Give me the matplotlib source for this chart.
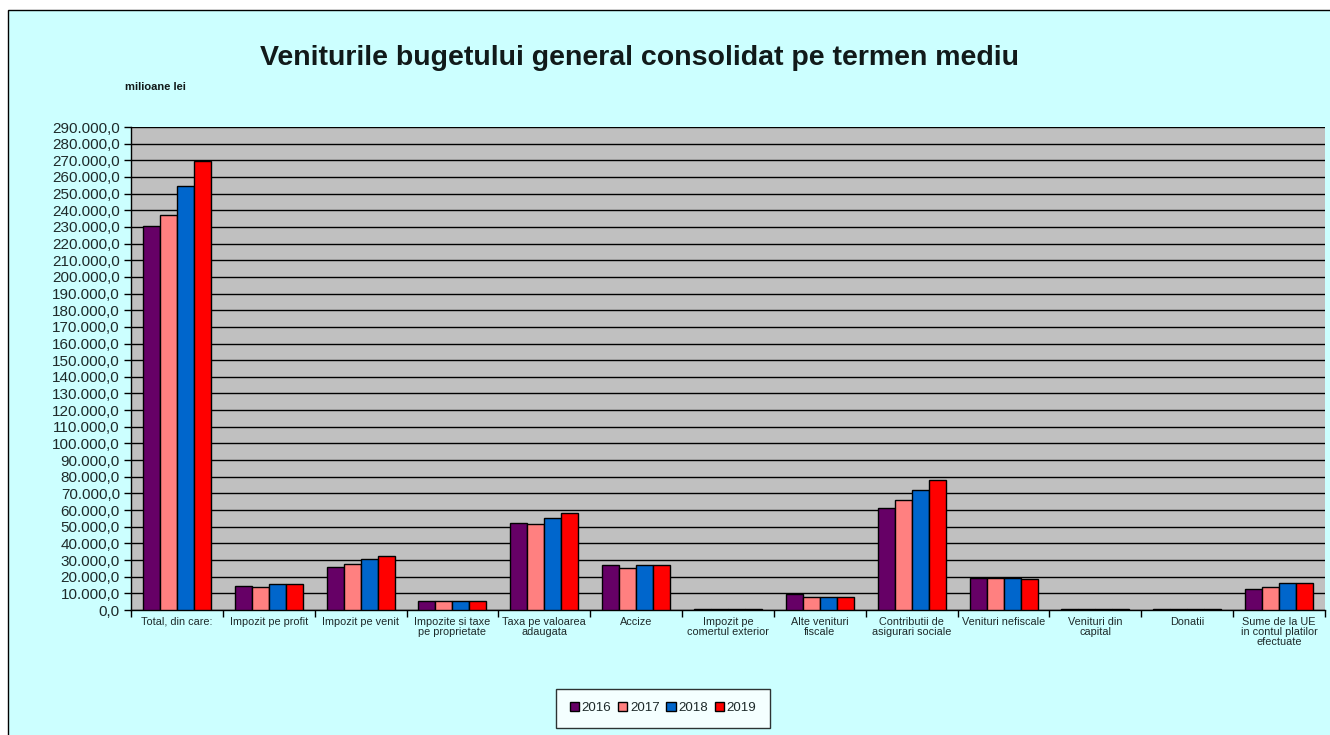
import matplotlib

matplotlib.use("Agg")
import matplotlib.pyplot as plt
import numpy as np
from matplotlib.patches import Rectangle
from matplotlib.ticker import FuncFormatter, MultipleLocator

plt.rcParams["font.family"] = ["Liberation Sans", "DejaVu Sans"]

categories = [
    "Total, din care:",
    "Impozit pe profit",
    "Impozit pe venit",
    "Impozite si taxe\npe proprietate",
    "Taxa pe valoarea\nadaugata",
    "Accize",
    "Impozit pe\ncomertul exterior",
    "Alte venituri\nfiscale",
    "Contributii de\nasigurari sociale",
    "Venituri nefiscale",
    "Venituri din\ncapital",
    "Donatii",
    "Sume de la UE\nin contul platilor\nefectuate",
]
years = ["2016", "2017", "2018", "2019"]

# milioane lei
v2016 = [230800, 14400, 26000, 5400, 52400, 27000, 800, 9600, 61400, 19400, 600, 500, 12800]
v2017 = [237200, 14100, 27800, 5400, 51400, 25100, 800, 8100, 65800, 19400, 600, 500, 13700]
v2018 = [254500, 15400, 30600, 5500, 55100, 27000, 800, 8000, 72000, 19400, 600, 500, 16200]
v2019 = [269400, 15500, 32600, 5500, 58200, 27000, 800, 8000, 78200, 18400, 600, 500, 16200]
series = [v2016, v2017, v2018, v2019]
colors = ["#660066", "#FF8080", "#0066CC", "#FF0000"]
text_color = "#1E2A2A"

fig = plt.figure(figsize=(13.3, 7.35), dpi=100)
fig.patch.set_facecolor("white")
fig.patches.append(Rectangle((8 / 1330, -0.01), 1.02, 1 - 10 / 735 + 0.01,
                             transform=fig.transFigure, facecolor="#CCFFFF",
                             edgecolor="black", linewidth=1.0, zorder=-10))

ax = fig.add_axes([131 / 1330, 1 - 610 / 735, (1325 - 131) / 1330, (610 - 127) / 735])
ax.set_facecolor("#C0C0C0")

x = np.arange(len(categories))
width = 0.185
for i, (vals, col, yr) in enumerate(zip(series, colors, years)):
    ax.bar(x + (i - 1.5) * width, vals, width, color=col, edgecolor="black",
           linewidth=1.0, label=yr, zorder=3)

ax.set_xlim(-0.5, len(categories) - 0.5)
ax.set_ylim(0, 290000)
ax.yaxis.set_major_locator(MultipleLocator(10000))
ax.yaxis.set_major_formatter(FuncFormatter(
    lambda v, _: f"{v:,.1f}".replace(",", " ").replace(".", ",").replace(" ", ".")))
ax.grid(axis="y", color="black", linewidth=1.0, zorder=1)
ax.tick_params(axis="y", labelsize=11, labelcolor=text_color, length=5, width=1, pad=3)

ax.set_xticks(x)
ax.set_xticklabels(categories, fontsize=7.8, linespacing=1.0, color=text_color)
ax.set_xticks(np.arange(-0.5, len(categories)), minor=True)
ax.tick_params(axis="x", which="major", length=0, pad=5)
ax.tick_params(axis="x", which="minor", length=5, width=1)

for side in ["top", "right"]:
    ax.spines[side].set_visible(False)
for side in ["left", "bottom"]:
    ax.spines[side].set_linewidth(1.0)

fig.text(640 / 1330, 1 - 58 / 735, "Veniturile bugetului general consolidat pe termen mediu",
         ha="center", va="center", fontsize=20.5, fontweight="bold", color="#111A1A")
fig.text(125 / 1330, 1 - 87 / 735, "milioane lei", ha="left", va="center",
         fontsize=8, fontweight="bold", color="#111A1A")

leg = fig.legend(loc="center", bbox_to_anchor=(663 / 1330, 1 - 708 / 735), ncol=4,
                 fontsize=9.6, frameon=True, fancybox=False, handlelength=0.7,
                 handleheight=0.7, handletextpad=0.2, columnspacing=0.5,
                 borderpad=1.0)
leg.get_frame().set_edgecolor("black")
leg.get_frame().set_linewidth(1.0)
for t in leg.get_texts():
    t.set_color(text_color)

fig.savefig("out.png", dpi=100)
